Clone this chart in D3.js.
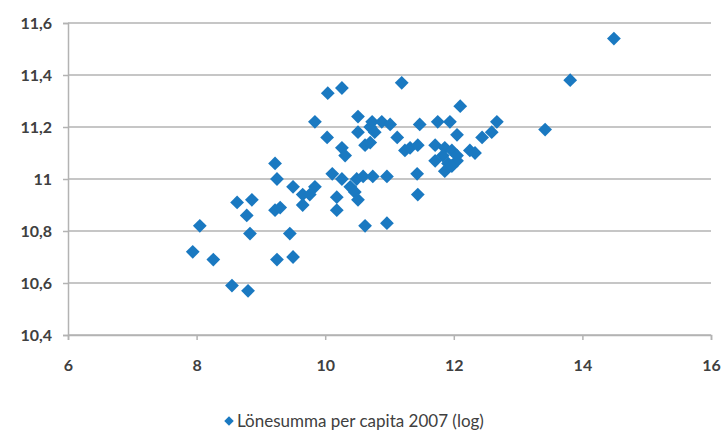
<!DOCTYPE html>
<html>
<head>
<meta charset="utf-8">
<script src="https://cdn.jsdelivr.net/npm/d3@7"></script>
<style>
  html, body { margin: 0; padding: 0; background: #fff; }
  svg { display: block; }
  text { font-family: Lato, "Open Sans", sans-serif; fill: #404040; }
</style>
</head>
<body>
<div id="chart"></div>
<script>
const xTicks = [6, 8, 10, 12, 14, 16];
const yTicks = [10.4, 10.6, 10.8, 11, 11.2, 11.4, 11.6];
const seriesName = "Lönesumma per capita 2007 (log)";

// x = log index, y = lönesumma per capita (log)
const xs = [7.94, 8.05, 8.26, 8.55, 8.80, 8.63, 8.86, 8.78, 8.83, 9.22,
            9.25, 9.22, 9.30, 9.25, 9.45, 9.50, 9.50, 9.65, 9.65, 9.84,
            9.76, 9.84, 10.03, 10.26, 10.31, 10.04, 10.26, 10.11, 10.26, 10.18,
            10.18, 10.39, 10.46, 10.51, 10.49, 10.59, 10.74, 10.96, 10.62, 10.96,
            10.51, 10.73, 10.88, 11.01, 10.51, 10.70, 10.77, 10.62, 10.70, 11.12,
            11.19, 11.24, 11.32, 11.44, 11.47, 11.43, 11.44, 11.75, 11.94, 11.71,
            11.86, 11.97, 11.83, 12.05, 12.25, 12.33, 11.71, 11.91, 12.05, 11.86,
            12.05, 12.10, 12.44, 12.59, 12.67, 13.42, 13.81, 14.49, 11.97];
const ys = [10.72, 10.82, 10.69, 10.59, 10.57, 10.91, 10.92, 10.86, 10.79, 11.06,
            11.00, 10.88, 10.89, 10.69, 10.79, 10.70, 10.97, 10.94, 10.90, 10.97,
            10.94, 11.22, 11.16, 11.12, 11.09, 11.33, 11.35, 11.02, 11.00, 10.93,
            10.88, 10.97, 10.95, 10.92, 11.00, 11.01, 11.01, 11.01, 10.82, 10.83,
            11.24, 11.22, 11.22, 11.21, 11.18, 11.20, 11.18, 11.13, 11.14, 11.16,
            11.37, 11.11, 11.12, 11.13, 11.21, 11.02, 10.94, 11.22, 11.22, 11.13,
            11.12, 11.11, 11.09, 11.09, 11.11, 11.10, 11.07, 11.06, 11.07, 11.03,
            11.17, 11.28, 11.16, 11.18, 11.22, 11.19, 11.38, 11.54, 11.05];

const W = 723, H = 432;
const mLeft = 68, mRight = 711, mTop = 23, mBottom = 335;
const blue = "#1a79c1";

const svg = d3.select("#chart").append("svg")
    .attr("width", W)
    .attr("height", H);

const x = d3.scaleLinear().domain([6, 16]).range([mLeft, mRight]);
const y = d3.scaleLinear().domain([10.4, 11.6]).range([mBottom, mTop]);

const loc = d3.formatLocale({decimal: ",", thousands: " ", grouping: [3], currency: ["", " kr"]});
const fmt = loc.format(".1~f");

// horizontal gridlines
svg.append("g")
    .selectAll("line")
    .data(yTicks)
    .join("line")
    .attr("x1", mLeft)
    .attr("x2", mRight)
    .attr("y1", d => y(d))
    .attr("y2", d => y(d))
    .attr("stroke", "#b3b3b3")
    .attr("stroke-width", 1.5);

let yAxis = svg.append("g")
    .attr("transform", "translate(" + mLeft + ",0)")
    .call(d3.axisLeft(y).tickValues(yTicks).tickFormat(fmt).tickSize(5).tickPadding(11));

let xAxis = svg.append("g")
    .attr("transform", "translate(0," + mBottom + ")")
    .call(d3.axisBottom(x).tickValues(xTicks).tickFormat(fmt).tickSize(5).tickPadding(20));

for (let ax of [yAxis, xAxis]) {
    ax.select(".domain").attr("stroke", "#b3b3b3").attr("stroke-width", 1.5);
    ax.selectAll(".tick line").attr("stroke", "#b3b3b3").attr("stroke-width", 1.5);
    ax.selectAll("text")
        .style("font-family", "Lato, 'Open Sans', sans-serif")
        .style("font-size", "16px")
        .style("font-weight", "bold")
        .attr("fill", "#404040");
}

const diamond = d3.symbol(d3.symbolSquare, 95);

svg.append("g")
    .selectAll("path")
    .data(d3.range(xs.length))
    .join("path")
    .attr("d", diamond)
    .attr("transform", i => "translate(" + x(xs[i]) + "," + y(ys[i]) + ") rotate(45)")
    .attr("fill", blue);

// legend
let lg = svg.append("g").attr("transform", "translate(229,421)");
lg.append("path")
    .attr("d", d3.symbol(d3.symbolSquare, 45))
    .attr("transform", "rotate(45)")
    .attr("fill", blue);
lg.append("text")
    .attr("x", 8)
    .attr("y", 6)
    .style("font-size", "17px")
    .text(seriesName);
</script>
</body>
</html>
